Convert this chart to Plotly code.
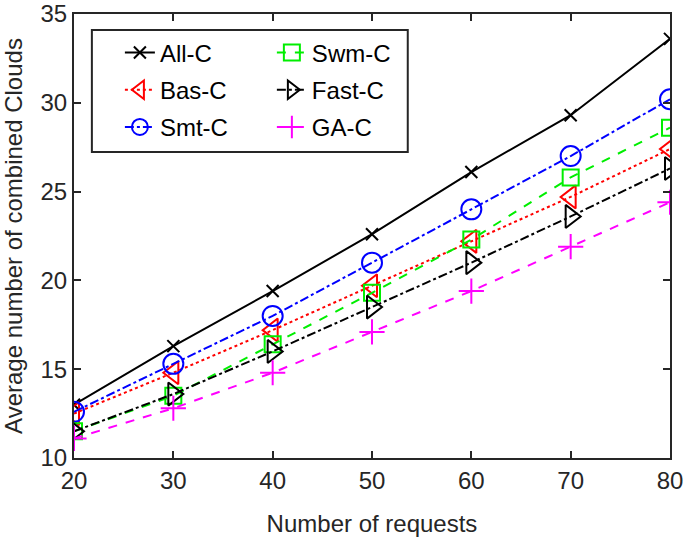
import plotly.graph_objects as go

requests = [20, 30, 40, 50, 60, 70, 80]
all_c = [13.0, 16.3, 19.4, 22.6, 26.1, 29.3, 33.6]
bas_c = [12.5, 14.8, 17.2, 19.7, 22.2, 24.7, 27.4]
smt_c = [12.6, 15.3, 18.0, 21.0, 24.0, 27.0, 30.2]
swm_c = [11.5, 13.5, 16.4, 19.3, 22.3, 25.8, 28.6]
fast_c = [11.5, 13.6, 16.0, 18.5, 21.0, 23.6, 26.3]
ga_c = [11.1, 12.8, 14.8, 17.1, 19.4, 21.9, 24.4]

x_ticks = [20, 30, 40, 50, 60, 70, 80]
y_ticks = [10, 15, 20, 25, 30, 35]

FONT = "Liberation Sans, Arial, sans-serif"

series = [
    ("All-C", all_c, "black", "solid", "x-thin", 12, "legend"),
    ("Bas-C", bas_c, "red", "dot", "triangle-left-open", 20, "legend"),
    ("Smt-C", smt_c, "blue", "dashdot", "circle-open", 20, "legend"),
    ("Swm-C", swm_c, "#00ee00", "dash", "square-open", 16, "legend2"),
    ("Fast-C", fast_c, "black", "dashdot", "triangle-right-open", 20, "legend2"),
    ("GA-C", ga_c, "#ff00ff", "dash", "cross-thin", 18, "legend2"),
]

fig = go.Figure()
for i, (name, vals, color, dash, sym, size, leg) in enumerate(series):
    fig.add_trace(go.Scatter(
        x=requests, y=vals, name=name, mode="lines+markers",
        line=dict(color=color, dash=dash, width=2),
        marker=dict(symbol=sym, size=size, color=color, line=dict(color=color, width=2)),
        legend=leg, legendgroup=f"g{i}",
    ))

axis_common = dict(
    showline=True, linecolor="#262626", linewidth=2, mirror="ticks",
    ticks="inside", ticklen=7, tickwidth=1.5, tickcolor="#262626",
    showgrid=False, zeroline=False, automargin=False,
    ticklabeloverflow="allow",
    tickfont=dict(family=FONT, size=24, color="#262626"),
    title_font=dict(family=FONT, size=24, color="#262626"),
)

fig.update_xaxes(range=[20, 80], tickvals=x_ticks, title_text="Number of requests",
                 title_standoff=22, **axis_common)
fig.update_yaxes(range=[10, 35], tickvals=y_ticks, title_text="Average number of combined Clouds",
                 title_standoff=11, **axis_common)

legend_common = dict(
    bgcolor="rgba(0,0,0,0)", borderwidth=0,
    font=dict(family=FONT, size=24, color="black"),
    tracegroupgap=3, xanchor="left", yanchor="top",
)

fig.update_layout(
    template="none",
    width=685, height=541,
    margin=dict(l=74, r=15, t=14, b=83),
    plot_bgcolor="white", paper_bgcolor="white",
    showlegend=True,
    legend=dict(x=0.077, y=0.963, **legend_common),
    legend2=dict(x=0.332, y=0.963, **legend_common),
    shapes=[dict(type="rect", xref="paper", yref="paper",
                 x0=0.030, x1=0.560, y0=0.689, y1=0.964,
                 line=dict(color="#262626", width=2), fillcolor="rgba(0,0,0,0)")],
)

fig.write_html("out.html", config={"displayModeBar": False},
               post_script="document.body.style.margin='0';")
